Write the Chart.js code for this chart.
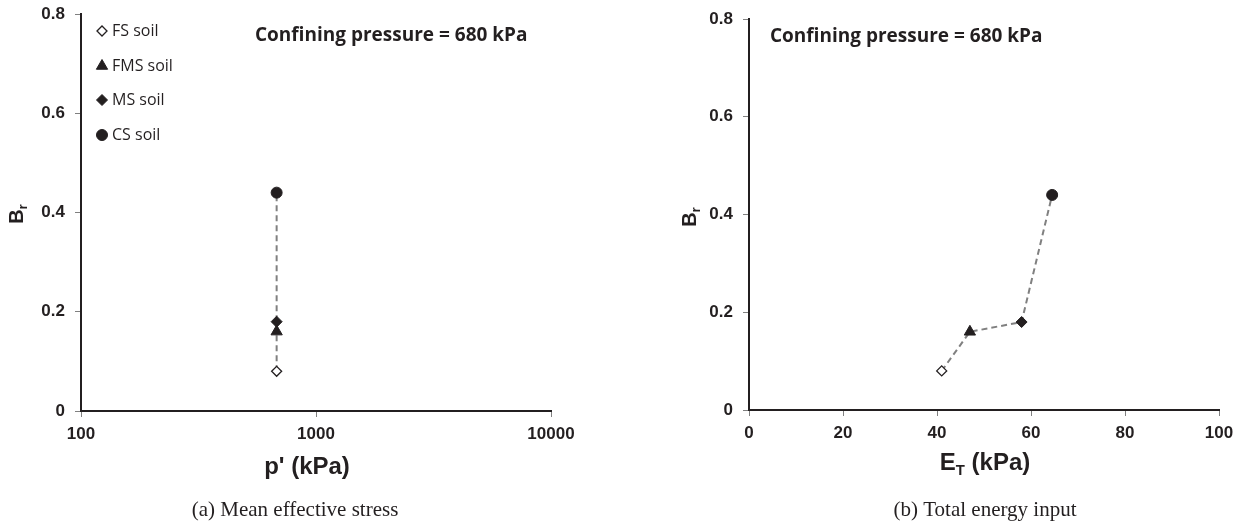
<!DOCTYPE html>
<html>
<head>
<meta charset="utf-8">
<script src="https://cdn.jsdelivr.net/npm/chart.js@4.4.1/dist/chart.umd.min.js"></script>
<style>
    html, body { margin: 0; padding: 0; background: #fff; }
    #wrap { position: relative; width: 1242px; height: 527px; }
    .box { position: absolute; top: 0; width: 621px; height: 527px; }
</style>
</head>
<body>
<div id="wrap">
    <div class="box" style="left:0"><canvas id="chartStress" width="621" height="527"></canvas></div>
    <div class="box" style="left:621px"><canvas id="chartEnergy" width="621" height="527"></canvas></div>
</div>
<script>
// ==================== Data ====================
const soilNames = ['FS soil', 'FMS soil', 'MS soil', 'CS soil'];
const meanStress = [680, 680, 680, 680];          // p' (kPa)
const energyInput = [41, 47, 58, 64.5];           // E_T (kPa)
const brValues = [0.08, 0.16, 0.18, 0.44];        // B_r
const stressTicks = [100, 1000, 10000];
const energyTicks = [0, 20, 40, 60, 80, 100];
const brTicks = [0, 0.2, 0.4, 0.6, 0.8];

// marker look per soil
const INK = '#231f20';
const markerStyle = ['rectRot', 'triangle', 'rectRot', 'circle'];
const markerFill = ['#ffffff', INK, INK, INK];
const markerRadius = [5, 6.5, 5.5, 5.5];
const markerBorder = [1.3, 1, 1, 1];

// draws text pieces in a row, sub pieces lowered and smaller
function drawRich(ctx, parts, cx, cy, size, family) {
    const fontOf = p => 'bold ' + (p.sub ? size * 0.62 : size) + 'px ' + family;
    let total = 0;
    parts.forEach(p => { ctx.font = fontOf(p); total += ctx.measureText(p.t).width; });
    let x = cx - total / 2;
    ctx.textAlign = 'left';
    ctx.textBaseline = 'alphabetic';
    parts.forEach(p => {
        ctx.font = fontOf(p);
        ctx.fillText(p.t, x, cy + (p.sub ? size * 0.22 : 0));
        x += ctx.measureText(p.t).width;
    });
}

// ==================== Text plugin ====================
const textPlugin = {
    id: 'texts',
    afterDraw(chart, args, o) {
        const ctx = chart.ctx;
        ctx.save();
        ctx.fillStyle = INK;

        // note
        ctx.font = 'bold 19px "Open Sans"';
        ctx.textAlign = 'left';
        ctx.textBaseline = 'middle';
        ctx.fillText(o.note, o.noteX, o.noteY);

        // legend
        if (o.legend) {
            soilNames.forEach((name, i) => {
                const y = o.legendY[i];
                ctx.fillStyle = markerFill[i];
                ctx.strokeStyle = INK;
                ctx.lineWidth = markerBorder[i];
                Chart.helpers.drawPoint(ctx, { pointStyle: markerStyle[i], radius: markerRadius[i], borderWidth: markerBorder[i] }, o.legendX, y);
                ctx.fillStyle = INK;
                ctx.font = '16px "Open Sans"';
                ctx.textAlign = 'left';
                ctx.textBaseline = 'middle';
                ctx.fillText(name, o.legendX + 10, y);
            });
        }

        // y title B_r
        ctx.save();
        ctx.translate(o.yTitleX, o.yTitleY);
        ctx.rotate(-Math.PI / 2);
        drawRich(ctx, [{ t: 'B' }, { t: 'r', sub: true }], 0, 7, 20, '"Liberation Sans"');
        ctx.restore();

        // x title
        drawRich(ctx, o.xTitle, o.xTitleX, o.xTitleY, 24, '"Liberation Sans"');

        // caption
        ctx.font = '21px "Liberation Serif"';
        ctx.textAlign = 'center';
        ctx.textBaseline = 'middle';
        ctx.fillText(o.caption, o.captionX, o.captionY);
        ctx.restore();
    }
};

function axisStyle(pad) {
    return {
        grid: { drawOnChartArea: false, drawTicks: true, tickLength: 6, color: '#808080', lineWidth: 1 },
        border: { display: true, color: INK, width: 2 },
        ticks: { color: INK, padding: pad, font: { family: '"Liberation Sans"', weight: 'bold', size: 17 } }
    };
}

function buildChart(id, xValues, xScale, pad, yWidth, xHeight, texts) {
    const ctx = document.getElementById(id).getContext('2d');
    const yAxis = axisStyle(10);
    const xAxis = axisStyle(7);
    return new Chart(ctx, {
        type: 'scatter',
        data: {
            datasets: [{
                data: xValues.map((x, i) => ({ x: x, y: brValues[i] })),
                showLine: true,
                borderColor: '#808080',
                borderWidth: 2,
                borderDash: [6, 4],
                pointStyle: markerStyle,
                pointRadius: markerRadius,
                pointBackgroundColor: markerFill,
                pointBorderColor: INK,
                pointBorderWidth: markerBorder
            }]
        },
        options: {
            responsive: false,
            animation: false,
            layout: { padding: pad },
            plugins: { legend: { display: false }, tooltip: { enabled: false }, texts: texts },
            scales: {
                x: Object.assign(xAxis, xScale, {
                    afterFit: s => { s.height = xHeight; s.paddingLeft = 0; s.paddingRight = 0; }
                }),
                y: Object.assign(yAxis, {
                    min: 0, max: 0.8,
                    afterBuildTicks: s => { s.ticks = brTicks.map(v => ({ value: v })); },
                    afterFit: s => { s.width = yWidth; s.paddingTop = 0; s.paddingBottom = 0; }
                })
            }
        },
        plugins: [textPlugin]
    });
}

// ==================== (a) mean effective stress ====================
buildChart('chartStress', meanStress, {
    type: 'logarithmic', min: 100, max: 10000,
    afterBuildTicks: s => { s.ticks = stressTicks.map(v => ({ value: v })); },
    ticks: Object.assign(axisStyle(7).ticks, { callback: v => String(v), autoSkip: false, maxRotation: 0 })
}, { top: 14, right: 70, left: 0, bottom: 0 }, 81, 116, {
    note: 'Confining pressure = 680 kPa', noteX: 255, noteY: 36,
    legend: true, legendX: 102, legendY: [31, 66, 100, 135],
    yTitleX: 16, yTitleY: 214,
    xTitle: [{ t: "p' (kPa)" }], xTitleX: 307, xTitleY: 474,
    caption: '(a) Mean effective stress', captionX: 295, captionY: 510
});

// ==================== (b) total energy input ====================
buildChart('chartEnergy', energyInput, {
    type: 'linear', min: 0, max: 100,
    afterBuildTicks: s => { s.ticks = energyTicks.map(v => ({ value: v })); }
}, { top: 19, right: 23, left: 0, bottom: 0 }, 128, 117, {
    note: 'Confining pressure = 680 kPa', noteX: 149, noteY: 37,
    legend: false,
    yTitleX: 68, yTitleY: 217,
    xTitle: [{ t: 'E' }, { t: 'T', sub: true }, { t: ' (kPa)' }], xTitleX: 364, xTitleY: 470,
    caption: '(b) Total energy input', captionX: 364, captionY: 510
});
</script>
</body>
</html>
